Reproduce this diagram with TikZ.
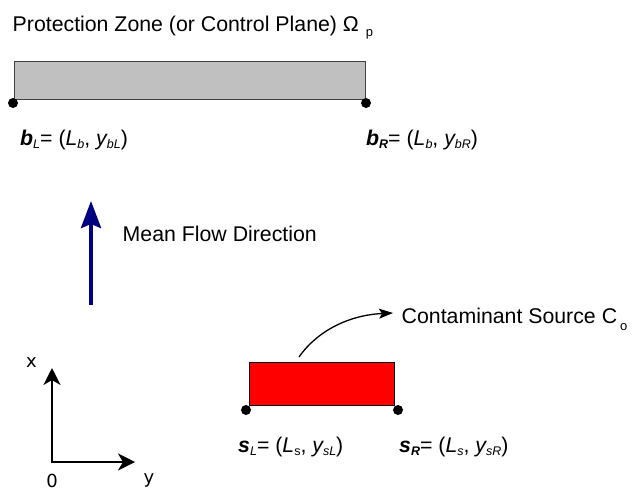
\documentclass[tikz,border=0pt]{standalone}
\usepackage{fontspec}
\setmainfont{Liberation Sans}
\newfontfamily\dejavu{DejaVu Sans}
\usetikzlibrary{arrows.meta}
\definecolor{zonegray}{HTML}{C0C0C0}
\definecolor{zoneedge}{HTML}{404040}
\definecolor{srcred}{HTML}{FF0000}
\definecolor{flownavy}{HTML}{000080}
\newcommand{\sbs}[1]{\raisebox{-3pt}{\fontsize{12.5}{12.5}\selectfont #1}}
\begin{document}
\begin{tikzpicture}[x=1pt,y=-1pt,
  txt/.style={font=\fontsize{21.3}{25}\selectfont, inner sep=0pt, anchor=base west},
  axlbl/.style={font=\dejavu\fontsize{18}{22}\selectfont, inner sep=0pt, anchor=base},
  dot/.style={circle, fill=black, inner sep=0pt, minimum size=10pt},
  zone/.style={draw=zoneedge, line width=1.2pt, inner sep=0pt, anchor=north west},
  flow/.style={draw=flownavy, line width=4pt, -{Stealth[length=27pt,width=20pt,inset=4pt]}},
  pointer/.style={draw=black, line width=1.3pt, -{Stealth[length=14pt,width=10pt,inset=3pt]}},
  axis/.style={draw=black, line width=2pt, {Stealth[length=17pt,width=17pt,inset=5pt]}-{Stealth[length=17pt,width=17pt,inset=5pt]}}
]
\useasboundingbox[fill=white] (0,0) rectangle (632,491);

% protection zone
\node[txt] (title) at (12.5,31) {Protection Zone (or Control Plane) Ω\hspace{7pt}\raisebox{-5.5pt}{\fontsize{13}{13}\selectfont p}};
\node[zone, fill=zonegray, minimum width=351pt, minimum height=38pt] (pz) at (14,61) {};
\node[dot] (bl) at (13,103) {};
\node[dot] (br) at (366,103) {};
\node[txt] (bllbl) at (20,145) {{\bfseries\itshape b}\sbs{\itshape L}= ({\itshape L}\sbs{\itshape b}, {\itshape y}\sbs{\itshape bL})};
\node[txt] (brlbl) at (366,145) {{\bfseries\itshape b}\sbs{\bfseries\itshape R}= ({\itshape L}\sbs{\itshape b}, {\itshape y}\sbs{\itshape bR})};

% flow direction
\coordinate (fs) at (91,305);
\coordinate (fe) at (91,201);
\draw[flow] (fs) -- (fe);
\node[txt] (flowlbl) at (122.5,241) {Mean Flow Direction};

% source
\node[zone, draw=black, fill=srcred, minimum width=145pt, minimum height=43pt] (src) at (249,362) {};
\node[dot] (sl) at (246,410) {};
\node[dot] (sr) at (398,410) {};
\node[txt] (sllbl) at (238,452) {{\bfseries\itshape s}\sbs{\itshape L}= ({\itshape L}\sbs{s}, {\itshape y}\sbs{\itshape sL})};
\node[txt] (srlbl) at (399,452) {{\bfseries\itshape s}\sbs{\bfseries\itshape R}= ({\itshape L}\sbs{\itshape s}, {\itshape y}\sbs{\itshape sR})};
\node[txt] (srclbl) at (401.5,323) {Contaminant Source C\hspace{3pt}\raisebox{-7pt}{\fontsize{13}{13}\selectfont o}};
\coordinate (cs) at (299,357);
\coordinate (ce) at (393,313);
\draw[pointer] (cs) .. controls (318,330) and (350,315) .. (ce);

% axes
\coordinate (xa) at (52,368);
\coordinate (o) at (52,462);
\coordinate (ya) at (135,462);
\draw[axis] (xa) -- (o) -- (ya);
\node[axlbl] (xl) at (31.5,367) {x};
\node[axlbl] (ol) at (52,487.5) {0};
\node[axlbl] (yl) at (149,483) {y};
\end{tikzpicture}
\end{document}
